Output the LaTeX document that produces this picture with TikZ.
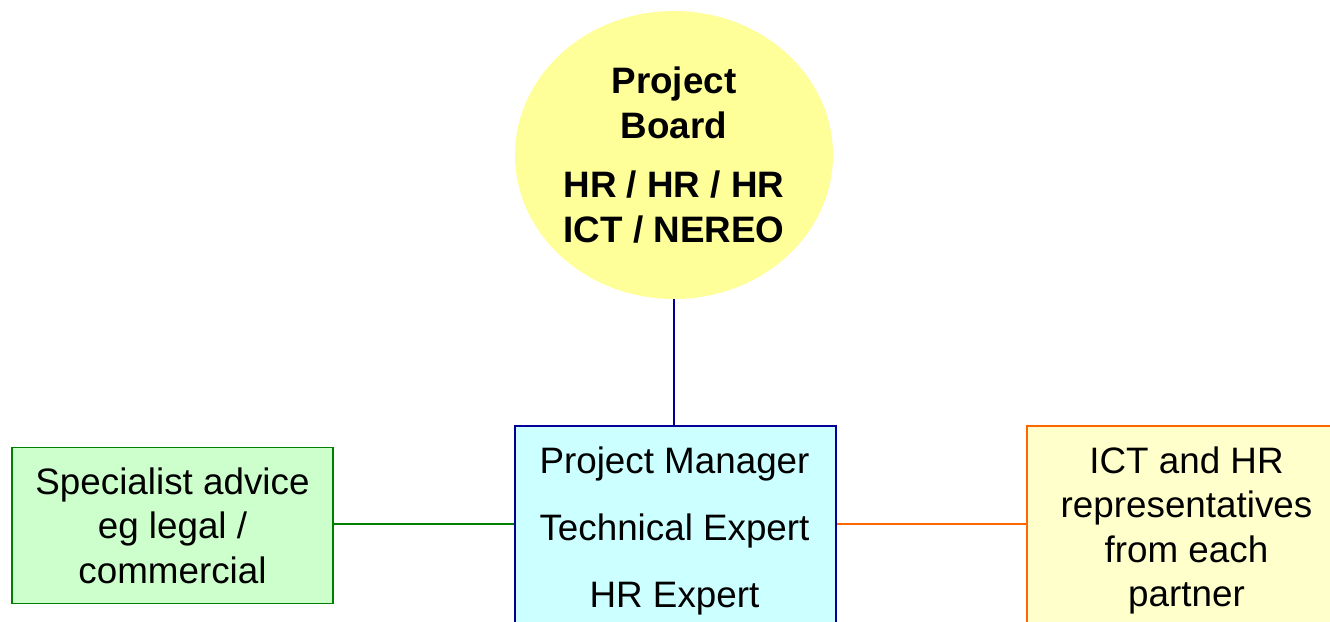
\documentclass[tikz,border=0pt]{standalone}
\usepackage{fontspec}
\setmainfont{Liberation Sans}
\usetikzlibrary{shapes.geometric}
\definecolor{boardfill}{HTML}{FFFF99}
\definecolor{pmfill}{HTML}{CCFFFF}
\definecolor{pmline}{HTML}{000099}
\definecolor{safill}{HTML}{CCFFCC}
\definecolor{saline}{HTML}{008000}
\definecolor{ictfill}{HTML}{FFFFCC}
\definecolor{ictline}{HTML}{FF6600}
\tikzset{
  boxbase/.style={rectangle, line width=1.5pt, inner sep=0pt, minimum width=321pt},
  bigtext/.style={font=\fontsize{36.8}{44}\selectfont, align=center, inner sep=0pt},
  conn/.style={line width=1.5pt},
}
\begin{document}
\begin{tikzpicture}[x=1pt,y=1pt]
\useasboundingbox (0,0) rectangle (1330,-621);
\clip (0,0) rectangle (1330,-621);
% Project board ellipse
\node[ellipse, fill=boardfill, draw=none, minimum width=318pt, minimum height=288pt, inner sep=0pt,
      font=\fontsize{36.8}{44.5}\selectfont\bfseries, align=center] (board) at (674,-155)
  {Project\\Board\\[15pt]HR / HR / HR\\ICT / NEREO};
% Specialist advice
\node[boxbase, fill=safill, draw=saline, minimum height=156pt, bigtext, minimum width=321pt,
      font=\fontsize{36.8}{44.5}\selectfont] (sa) at (172.5,-525.5)
  {Specialist advice\\eg legal /\\commercial};
% Project manager box
\node[boxbase, fill=pmfill, draw=pmline, minimum height=240pt, anchor=north west] (pm) at (514,-425) {};
\node[bigtext, anchor=north, font=\fontsize{36.8}{67}\selectfont] (pmtext) at (674.5,-446.5)
  {Project Manager\\Technical Expert\\HR Expert};
% ICT and HR box
\node[boxbase, fill=ictfill, draw=ictline, minimum height=240pt, anchor=north west] (ict) at (1026,-425) {};
\node[bigtext, anchor=north, font=\fontsize{36.8}{44.5}\selectfont] (icttext) at (1186.5,-446.5)
  {ICT and HR\\representatives\\from each\\partner};
% connectors
\coordinate (pmleft) at (pm.north west |- 0,-524);
\coordinate (pmright) at (pm.north east |- 0,-524);
\draw[conn, draw=pmline] (board.south) -- (pm.north -| board.south);
\draw[conn, draw=saline] (sa.east |- pmleft) -- (pmleft);
\draw[conn, draw=ictline] (pmright) -- (pmright -| ict.north west);
\end{tikzpicture}
\end{document}
